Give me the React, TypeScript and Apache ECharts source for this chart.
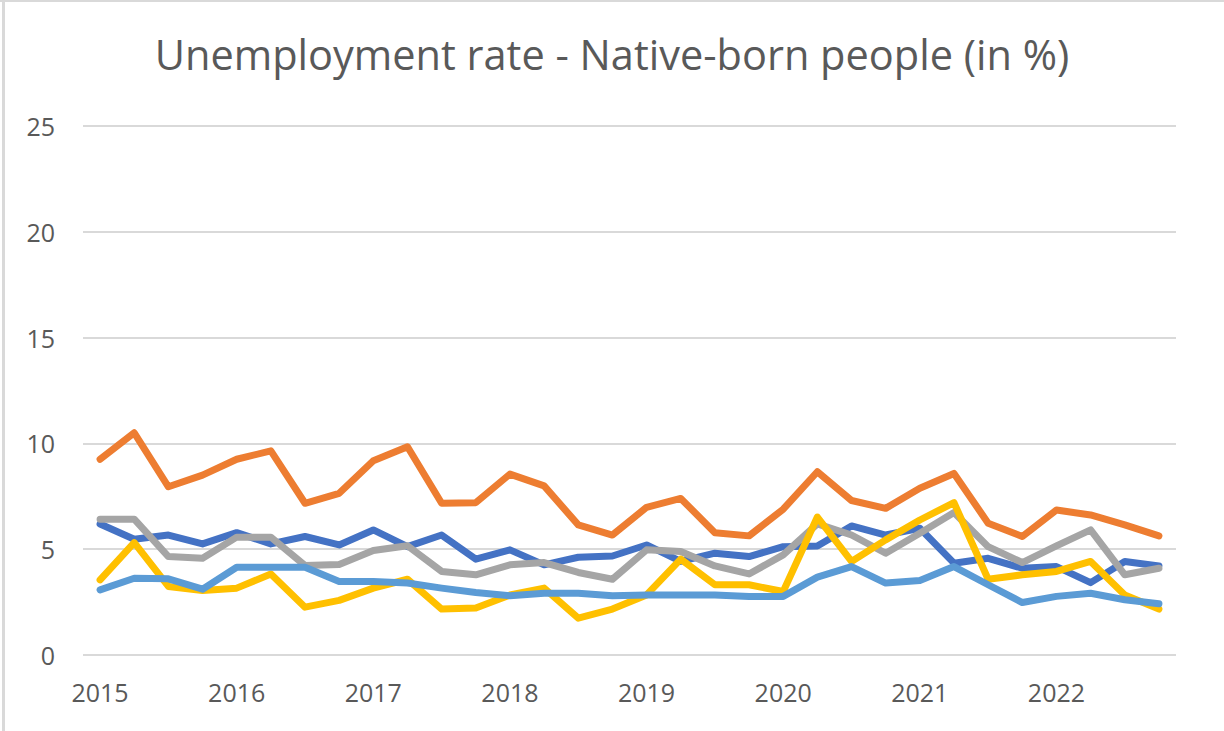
import React, { useEffect, useRef } from "react";
import * as echarts from "echarts";

const quarters: string[] = [];
const years = ["2015", "2016", "2017", "2018", "2019", "2020", "2021", "2022"];
for (const y of years) for (const q of ["Q1", "Q2", "Q3", "Q4"]) quarters.push(`${y} ${q}`);

const series1 = [6.19, 5.47, 5.67, 5.25, 5.78, 5.25, 5.6, 5.2, 5.91, 5.12, 5.67, 4.53, 4.97, 4.26, 4.62, 4.68, 5.2, 4.42, 4.81, 4.65, 5.12, 5.15, 6.1, 5.67, 5.99, 4.34, 4.57, 4.1, 4.18, 3.42, 4.42, 4.21];
const series2 = [9.25, 10.5, 7.95, 8.5, 9.25, 9.65, 7.17, 7.64, 9.18, 9.84, 7.17, 7.2, 8.55, 7.99, 6.15, 5.67, 6.98, 7.4, 5.78, 5.63, 6.89, 8.66, 7.3, 6.93, 7.88, 8.58, 6.23, 5.6, 6.85, 6.62, 6.15, 5.63];
const series3 = [6.42, 6.42, 4.65, 4.57, 5.57, 5.57, 4.23, 4.28, 4.94, 5.16, 3.95, 3.79, 4.26, 4.37, 3.9, 3.58, 4.97, 4.89, 4.21, 3.83, 4.73, 6.2, 5.67, 4.81, 5.75, 6.73, 5.12, 4.37, 5.16, 5.91, 3.79, 4.1];
const series4 = [3.55, 5.31, 3.24, 3.05, 3.16, 3.83, 2.26, 2.58, 3.16, 3.58, 2.17, 2.22, 2.84, 3.16, 1.74, 2.17, 2.84, 4.53, 3.32, 3.32, 3.0, 6.52, 4.42, 5.44, 6.38, 7.2, 3.58, 3.79, 3.95, 4.42, 2.84, 2.17];
const series5 = [3.08, 3.63, 3.6, 3.11, 4.15, 4.15, 4.15, 3.47, 3.47, 3.4, 3.16, 2.95, 2.8, 2.92, 2.92, 2.8, 2.84, 2.84, 2.84, 2.77, 2.77, 3.68, 4.18, 3.4, 3.52, 4.18, 3.32, 2.48, 2.77, 2.92, 2.61, 2.42];

const seriesNames = ["Series 1", "Series 2", "Series 3", "Series 4", "Series 5"];
const seriesColors = ["#4472C4", "#ED7D31", "#A5A5A5", "#FFC000", "#5B9BD5"];
const seriesData = [series1, series2, series3, series4, series5];

const title = "Unemployment rate - Native-born people (in %)";
const FONT = "'Open Sans', Lato, sans-serif";

export default function App() {
  const ref = useRef<HTMLDivElement>(null);
  useEffect(() => {
    if (!ref.current) return;
    const chart = echarts.init(ref.current, undefined, { renderer: "svg" });
    chart.setOption({
      animation: false,
      backgroundColor: "#ffffff",
      title: {
        text: title,
        left: "center",
        top: 28,
        textStyle: { fontFamily: FONT, fontSize: 41.5, fontWeight: "normal", color: "#595959" },
      },
      graphic: [
        { type: "rect", left: 2, top: 0, shape: { width: 3, height: 731 }, style: { fill: "#d9d9d9" } },
        { type: "rect", left: 0, top: 0, shape: { width: 1224, height: 2 }, style: { fill: "#d9d9d9" } },
      ],
      grid: { left: 83, right: 48, top: 126, bottom: 76, containLabel: false },
      xAxis: {
        type: "category",
        data: quarters,
        boundaryGap: true,
        axisLine: { show: false },
        axisTick: { show: false },
        axisLabel: {
          interval: 3,
          formatter: (v: string) => v.slice(0, 4),
          fontFamily: FONT,
          fontSize: 25,
          color: "#595959",
          margin: 24,
        },
      },
      yAxis: {
        type: "value",
        min: 0,
        max: 25,
        interval: 5,
        axisLine: { show: false },
        axisTick: { show: false },
        splitLine: { lineStyle: { color: "#d9d9d9", width: 2 } },
        axisLabel: { fontFamily: FONT, fontSize: 25, color: "#595959", margin: 28 },
      },
      series: seriesData.map((d, i) => ({
        name: seriesNames[i],
        type: "line",
        data: d,
        symbol: "none",
        lineStyle: { color: seriesColors[i], width: 7, join: "round", cap: "round" },
        itemStyle: { color: seriesColors[i] },
        z: 2 + i,
      })),
    });
    return () => chart.dispose();
  }, []);
  return <div ref={ref} style={{ position: "fixed", left: 0, top: 0, width: 1224, height: 731 }} />;
}
